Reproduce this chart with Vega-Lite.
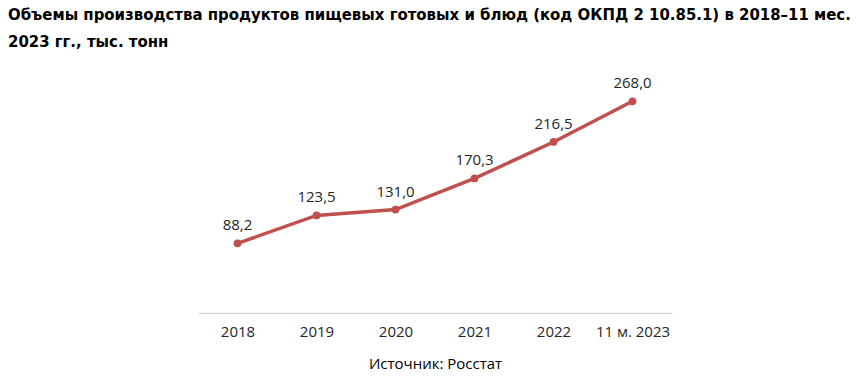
{
  "$schema": "https://vega.github.io/schema/vega-lite/v6.json",
  "autosize": "none",
  "width": 474,
  "height": 237,
  "padding": {"left": 198, "top": 76, "right": 195, "bottom": 75},
  "background": "white",
  "title": {
    "text": ["Объемы производства продуктов пищевых готовых и блюд (код ОКПД 2 10.85.1) в 2018–11 мес.", "2023 гг., тыс. тонн"],
    "anchor": "start",
    "frame": "group",
    "dx": -190,
    "offset": 25,
    "font": "DejaVu Sans Condensed, sans-serif",
    "fontSize": 16.6,
    "fontWeight": "bold",
    "color": "#000000",
    "lineHeight": 27
  },
  "data": {
    "values": [
      {"year": "2018", "value": 88.2, "label": "88,2"},
      {"year": "2019", "value": 123.5, "label": "123,5"},
      {"year": "2020", "value": 131.0, "label": "131,0"},
      {"year": "2021", "value": 170.3, "label": "170,3"},
      {"year": "2022", "value": 216.5, "label": "216,5"},
      {"year": "11 м. 2023", "value": 268.0, "label": "268,0"}
    ]
  },
  "encoding": {
    "x": {
      "field": "year",
      "type": "nominal",
      "sort": null,
      "scale": {"paddingInner": 0, "paddingOuter": 0.5},
      "axis": {
        "title": "Источник: Росстат",
        "titleFont": "Open Sans, sans-serif",
        "titleFontSize": 15,
        "titleFontWeight": "normal",
        "titleColor": "#000000",
        "titlePadding": 17,
        "labelAngle": 0,
        "labelFont": "Open Sans, sans-serif",
        "labelFontSize": 15,
        "labelColor": "#262626",
        "labelPadding": 11,
        "ticks": false,
        "domainColor": "#D9D9D9",
        "domainWidth": 1.5,
        "grid": false
      }
    },
    "y": {
      "field": "value",
      "type": "quantitative",
      "scale": {"domain": [0, 300]},
      "axis": null
    }
  },
  "layer": [
    {"mark": {"type": "line", "color": "#C0504D", "strokeWidth": 3.5}},
    {"mark": {"type": "point", "filled": true, "color": "#C0504D", "opacity": 1, "size": 60}},
    {
      "mark": {"type": "text", "baseline": "bottom", "dy": -10, "font": "Open Sans, sans-serif", "fontSize": 15, "color": "#262626"},
      "encoding": {"text": {"field": "label"}}
    }
  ],
  "config": {"view": {"stroke": null}}
}
